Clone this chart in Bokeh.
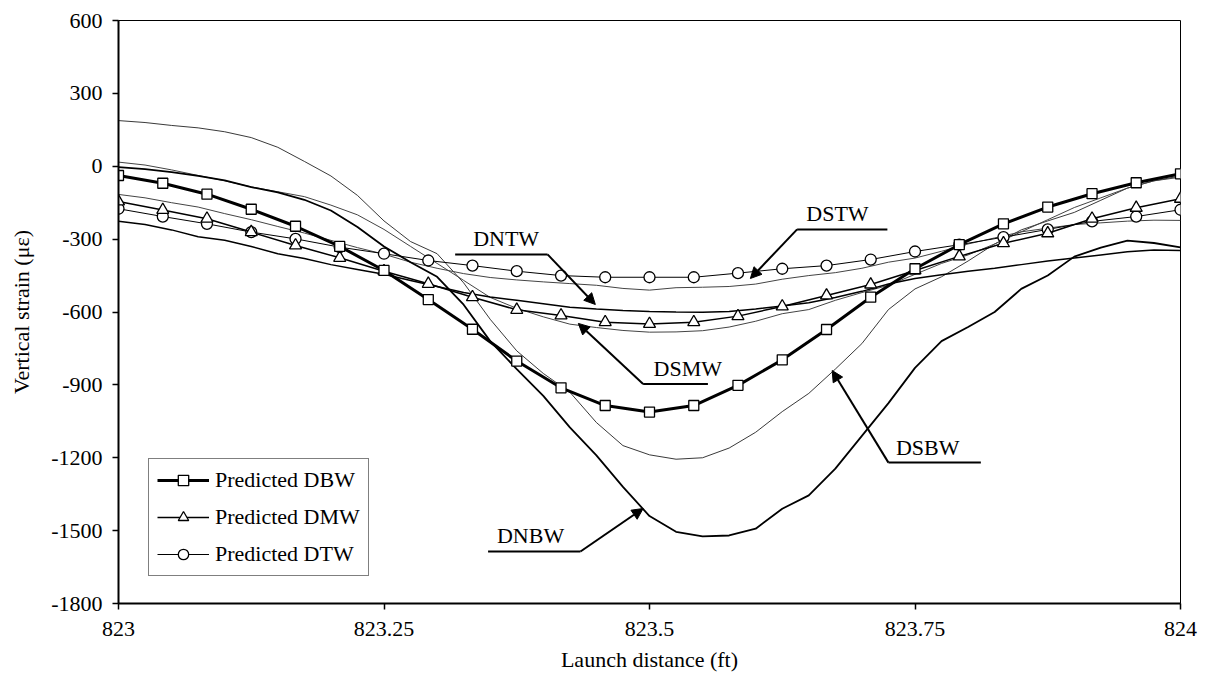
from bokeh.plotting import figure
from bokeh.models import (FixedTicker, Legend, LegendItem, Arrow, NormalHead, Range1d)
from bokeh.core.properties import value
from bokeh.embed import file_html
from bokeh.resources import INLINE

FONT = "Liberation Serif"

# ---------------- data ----------------
x_ticks = [823, 823.25, 823.5, 823.75, 824]
x_tick_labels = ["823", "823.25", "823.5", "823.75", "824"]
y_ticks = [-1800, -1500, -1200, -900, -600, -300, 0, 300, 600]
y_tick_labels = ["-1800", "-1500", "-1200", "-900", "-600", "-300", "0", "300", "600"]

# predicted curves (every 0.5 in = 1/24 ft)
x_pred = [823.0, 823.0417, 823.0833, 823.125, 823.1667, 823.2083, 823.25, 823.2917,
          823.3333, 823.375, 823.4167, 823.4583, 823.5, 823.5417, 823.5833, 823.625,
          823.6667, 823.7083, 823.75, 823.7917, 823.8333, 823.875, 823.9167, 823.9583, 824.0]
pred_dbw = [-38, -70, -115, -177, -247, -330, -429, -549, -671, -802, -912, -985, -1012,
            -985, -902, -797, -672, -539, -422, -323, -237, -168, -113, -68, -31]
pred_dmw = [-145, -180, -216, -271, -326, -377, -432, -484, -539, -591, -614, -642, -649,
            -642, -617, -577, -532, -487, -429, -371, -317, -276, -216, -171, -134]
pred_dtw = [-175, -207, -237, -271, -299, -333, -360, -388, -409, -432, -450, -457, -457,
            -457, -440, -422, -409, -384, -351, -323, -292, -260, -227, -207, -179]

# measured curves (every 0.025 ft)
x_meas = [823.000, 823.025, 823.050, 823.075, 823.100, 823.125, 823.150, 823.175, 823.200,
          823.225, 823.250, 823.275, 823.300, 823.325, 823.350, 823.375, 823.400, 823.425,
          823.450, 823.475, 823.500, 823.525, 823.550, 823.575, 823.600, 823.625, 823.650,
          823.675, 823.700, 823.725, 823.750, 823.775, 823.800, 823.825, 823.850, 823.875,
          823.900, 823.925, 823.950, 823.975, 824.000]
meas_dnbw = [-4, -12, -24, -40, -58, -86, -108, -138, -182, -250, -330, -395, -455, -570,
             -720, -835, -945, -1075, -1190, -1320, -1440, -1505, -1524, -1520, -1492,
             -1410, -1355, -1245, -1110, -975, -830, -720, -662, -600, -505, -450, -372,
             -335, -306, -316, -334]
meas_dsbw = [188, 180, 168, 158, 142, 118, 78, 20, -40, -120, -225, -310, -360, -480, -630,
             -760, -853, -930, -1055, -1150, -1188, -1206, -1200, -1160, -1095, -1010, -935,
             -835, -730, -590, -505, -455, -390, -320, -262, -225, -190, -140, -90, -60, -40]
meas_dstw = [-116, -130, -150, -168, -195, -220, -248, -275, -305, -335, -362, -395, -420,
             -442, -458, -468, -476, -483, -490, -503, -510, -500, -498, -495, -485, -465,
             -450, -438, -420, -395, -378, -350, -320, -295, -270, -255, -240, -233, -226,
             -222, -223]
meas_dntw = [-226, -240, -262, -290, -305, -330, -360, -380, -405, -425, -445, -470, -495,
             -520, -538, -552, -566, -580, -588, -594, -598, -600, -601, -598, -588, -575,
             -562, -540, -515, -485, -462, -447, -432, -420, -405, -390, -378, -365, -352,
             -345, -347]
meas_dsmw = [17, 5, -15, -38, -60, -85, -105, -125, -160, -200, -260, -330, -400, -470, -540,
             -585, -620, -650, -664, -676, -683, -682, -677, -662, -638, -607, -590, -552,
             -520, -490, -445, -400, -365, -320, -270, -220, -170, -130, -90, -60, -45]

# annotation labels: (text, text x, text baseline y, leader end x, bend x, leader y, tip x, tip y)
annotations = [
    ("DNTW", 823.365, -297, 823.317, 823.404, -363, 823.449, -569),
    ("DSTW", 823.677, -196, 823.724, 823.639, -260, 823.595, -462),
    ("DSMW", 823.536, -834, 823.555, 823.494, -896, 823.433, -647),
    ("DSBW", 823.762, -1157, 823.812, 823.725, -1220, 823.672, -841),
    ("DNBW", 823.388, -1520, 823.348, 823.435, -1586, 823.494, -1409),
]

# ---------------- figure ----------------
p = figure(width=1206, height=687, x_range=Range1d(823, 824), y_range=Range1d(-1800, 600),
           output_backend="svg", toolbar_location=None,
           min_border_left=118, min_border_right=26, min_border_top=20, min_border_bottom=84)
p.background_fill_color = "white"
p.border_fill_color = "white"
p.outline_line_color = "black"
p.outline_line_width = 1
p.grid.visible = False

p.xaxis.ticker = FixedTicker(ticks=x_ticks)
p.xaxis.major_label_overrides = dict(zip(x_ticks, x_tick_labels))
p.yaxis.ticker = FixedTicker(ticks=y_ticks)
p.yaxis.major_label_overrides = dict(zip(y_ticks, y_tick_labels))
p.xaxis.axis_label = "Launch distance (ft)"
p.yaxis.axis_label = "Vertical strain (\u03bc\u03b5)"
for ax in (p.xaxis, p.yaxis):
    ax.axis_line_width = 2
    ax.axis_line_color = "black"
    ax.major_tick_line_width = 1.5
    ax.major_tick_line_color = "black"
    ax.major_tick_out = 6
    ax.major_tick_in = 0
    ax.minor_tick_out = 0
    ax.minor_tick_in = 0
    ax.major_label_text_font = FONT
    ax.major_label_text_font_size = "22px"
    ax.major_label_text_color = "black"
    ax.axis_label_text_font = FONT
    ax.axis_label_text_font_size = "22px"
    ax.axis_label_text_font_style = "normal"
    ax.axis_label_text_color = "black"
p.xaxis.major_label_standoff = 12
p.xaxis.axis_label_standoff = 8
p.yaxis.major_label_standoff = 10
p.yaxis.axis_label_standoff = 14

# measured curves
p.line(x_meas, meas_dsbw, line_color="#222222", line_width=0.9)
p.line(x_meas, meas_dsmw, line_color="#444444", line_width=1.0)
p.line(x_meas, meas_dstw, line_color="#444444", line_width=1.0)
p.line(x_meas, meas_dntw, line_color="black", line_width=1.5)
p.line(x_meas, meas_dnbw, line_color="black", line_width=1.8)

# predicted curves
l_dtw = p.line(x_pred, pred_dtw, line_color="black", line_width=1.0)
m_dtw = p.scatter(x_pred, pred_dtw, marker="circle", size=11, fill_color="white",
                  line_color="black", line_width=1.3)
l_dmw = p.line(x_pred, pred_dmw, line_color="black", line_width=1.5)
m_dmw = p.scatter(x_pred, pred_dmw, marker="triangle", size=12, fill_color="white",
                  line_color="black", line_width=1.3)
l_dbw = p.line(x_pred, pred_dbw, line_color="black", line_width=3)
m_dbw = p.scatter(x_pred, pred_dbw, marker="square", size=10, fill_color="white",
                  line_color="black", line_width=1.3)

# annotations
for name, tx, ty, x0, x1, ly, ax_, ay in annotations:
    p.text(x=[tx], y=[ty], text=[name], text_font=value(FONT), text_font_size="22px",
           text_align="center", text_baseline="alphabetic", text_color="black")
    p.line([x0, x1], [ly, ly], line_color="black", line_width=2)
    p.add_layout(Arrow(x_start=x1, y_start=ly, x_end=ax_, y_end=ay, line_width=2,
                       line_color="black",
                       end=NormalHead(size=11, fill_color="black", line_color="black")))

legend = Legend(items=[
    LegendItem(label="Predicted DBW", renderers=[l_dbw, m_dbw]),
    LegendItem(label="Predicted DMW", renderers=[l_dmw, m_dmw]),
    LegendItem(label="Predicted DTW", renderers=[l_dtw, m_dtw]),
], location=(30, 27))
legend.border_line_color = "black"
legend.border_line_width = 1.5
legend.background_fill_color = "white"
legend.background_fill_alpha = 1
legend.label_text_font = FONT
legend.label_text_font_size = "22px"
legend.label_text_color = "black"
legend.glyph_width = 52
legend.glyph_height = 26
legend.label_height = 26
legend.label_standoff = 6
legend.spacing = 11
legend.padding = 8
legend.margin = 0
p.add_layout(legend)

open("out.html", "w").write(file_html(p, INLINE))
